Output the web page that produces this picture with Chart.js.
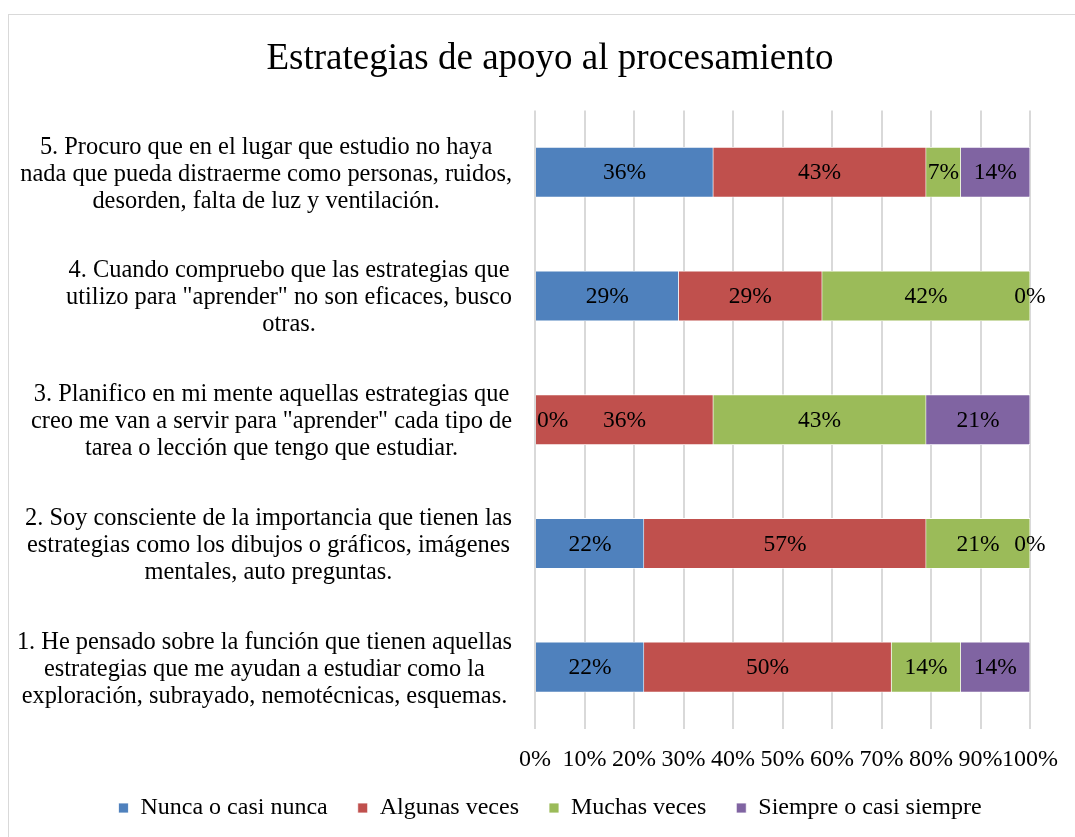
<!DOCTYPE html>
<html>
<head>
<meta charset="utf-8">
<script src="https://cdn.jsdelivr.net/npm/chart.js@4/dist/chart.umd.min.js"></script>
<style>
  html, body { margin: 0; padding: 0; background: #ffffff; overflow: hidden; }
  #wrap { position: relative; width: 1075px; height: 837px; }
  #frame { position: absolute; left: 8px; top: 14px; width: 1100px; height: 900px; border: 1px solid #D9D9D9; box-sizing: border-box; }
  canvas { position: absolute; left: 0; top: 0; }
</style>
</head>
<body>
<div id="wrap">
  <div id="frame"></div>
  <canvas id="chart" width="1075" height="837"></canvas>
</div>
<script>
// Categories, top to bottom as in the picture
var categories = [
    ['5. Procuro que en el lugar que estudio no haya', 'nada que pueda distraerme como personas, ruidos,', 'desorden, falta de luz y ventilación.'],
    ['4. Cuando compruebo que las estrategias que', 'utilizo para "aprender" no son eficaces, busco', 'otras.'],
    ['3. Planifico en mi mente aquellas estrategias que', 'creo me van a servir para "aprender" cada tipo de', 'tarea o lección que tengo que estudiar.'],
    ['2. Soy consciente de la importancia que tienen las', 'estrategias como los dibujos o gráficos, imágenes', 'mentales, auto preguntas.'],
    ['1. He pensado sobre la función que tienen aquellas', 'estrategias que me ayudan a estudiar como la', 'exploración, subrayado, nemotécnicas, esquemas.']
];

var seriesNames = ['Nunca o casi nunca', 'Algunas veces', 'Muchas veces', 'Siempre o casi siempre'];
var nunca    = [36, 29, 0, 22, 22];
var algunas  = [43, 29, 36, 57, 50];
var muchas   = [7, 42, 43, 21, 14];
var siempre  = [14, 0, 21, 0, 14];
var seriesColors = ['#4F81BD', '#C0504D', '#9BBB59', '#8064A2'];
var tickValues = [0, 10, 20, 30, 40, 50, 60, 70, 80, 90, 100];

var FONT = '"Liberation Serif", "Times New Roman", serif';

// Draw category labels: block right aligned, lines centered inside the block
var categoryLabels = {
    id: 'categoryLabels',
    afterDraw: function(chart) {
        var ctx = chart.ctx;
        var yScale = chart.scales.y;
        var rightEdge = chart.chartArea.left - 23;
        var lineH = 27;
        ctx.save();
        ctx.font = '24.4px ' + FONT;
        ctx.fillStyle = '#000000';
        ctx.textAlign = 'center';
        ctx.textBaseline = 'middle';
        categories.forEach(function(lines, i) {
            var widest = 0;
            lines.forEach(function(l) { widest = Math.max(widest, ctx.measureText(l).width); });
            var cx = rightEdge - widest / 2;
            var cy = yScale.getPixelForValue(i) + 2;
            var y0 = cy - (lines.length - 1) * lineH / 2;
            lines.forEach(function(l, k) { ctx.fillText(l, cx, y0 + k * lineH); });
        });
        ctx.restore();
    }
};

// Percent labels centered in each segment
var segmentLabels = {
    id: 'segmentLabels',
    afterDatasetsDraw: function(chart) {
        var ctx = chart.ctx;
        var area = chart.chartArea;
        ctx.save();
        ctx.font = '23.5px ' + FONT;
        ctx.fillStyle = '#000000';
        ctx.textAlign = 'center';
        ctx.textBaseline = 'middle';
        chart.data.datasets.forEach(function(ds, di) {
            var meta = chart.getDatasetMeta(di);
            meta.data.forEach(function(bar, i) {
                var txt = ds.data[i] + '%';
                var w = ctx.measureText(txt).width;
                var x = (bar.x + bar.base) / 2;
                if (x - w / 2 < area.left + 2) x = area.left + 2 + w / 2;
                ctx.fillText(txt, x, bar.y + 1);
            });
        });
        ctx.restore();
    }
};

var seriesData = [nunca, algunas, muchas, siempre];

new Chart(document.getElementById('chart'), {
    type: 'bar',
    data: {
        labels: categories.map(function(c) { return c.join(' '); }),
        datasets: seriesNames.map(function(name, i) {
            return {
                label: name,
                data: seriesData[i],
                backgroundColor: seriesColors[i],
                borderColor: '#ffffff',
                borderWidth: 0.8,
                barThickness: 50
            };
        })
    },
    options: {
        indexAxis: 'y',
        responsive: false,
        animation: false,
        layout: { padding: { top: 14, left: 70, right: 45, bottom: 7 } },
        scales: {
            x: {
                stacked: true,
                min: 0,
                max: 100,
                afterBuildTicks: function(scale) {
                    scale.ticks = tickValues.map(function(v) { return { value: v }; });
                },
                afterFit: function(scale) { scale.height = 37; },
                grid: { color: '#D9D9D9', lineWidth: 2, drawTicks: false },
                border: { display: false },
                ticks: {
                    padding: 16,
                    color: '#000000',
                    font: { family: FONT, size: 24 },
                    maxRotation: 0,
                    autoSkip: false,
                    callback: function(v) { return v + '%'; }
                }
            },
            y: {
                stacked: true,
                afterFit: function(scale) { scale.width = 465; },
                grid: { display: false },
                border: { display: false },
                ticks: { display: false }
            }
        },
        plugins: {
            title: {
                display: true,
                text: 'Estrategias de apoyo al procesamiento',
                color: '#000000',
                font: { family: FONT, size: 37, weight: 'normal' },
                padding: { top: 23, bottom: 29 }
            },
            legend: {
                position: 'bottom',
                labels: {
                    boxWidth: 10,
                    boxHeight: 10,
                    padding: 30,
                    color: '#000000',
                    font: { family: FONT, size: 24 }
                }
            },
            tooltip: { enabled: false }
        }
    },
    plugins: [categoryLabels, segmentLabels]
});
</script>
</body>
</html>
